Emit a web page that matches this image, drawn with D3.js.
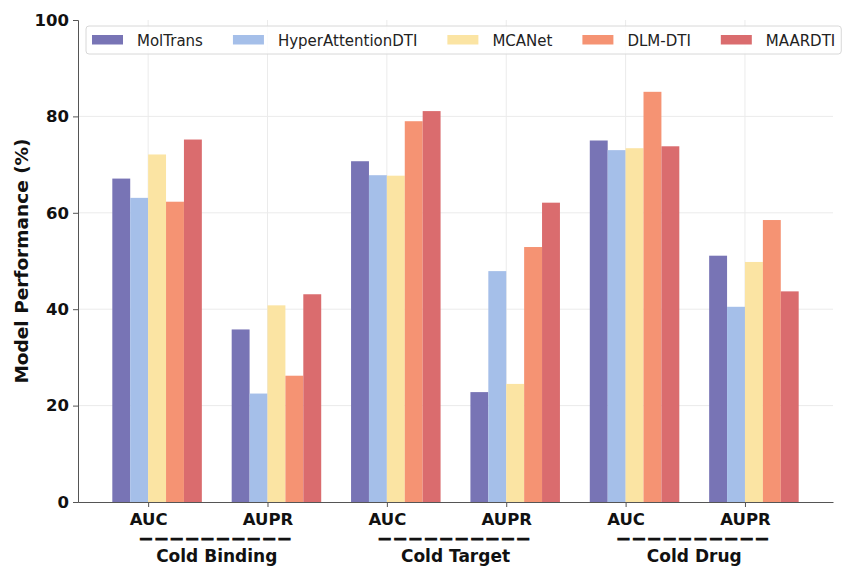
<!DOCTYPE html>
<html>
<head>
<meta charset="utf-8">
<script src="https://cdn.jsdelivr.net/npm/d3@7"></script>
<style>
  body { margin: 0; background: #fff; }
  svg { font-family: "DejaVu Sans", sans-serif; }
</style>
</head>
<body>
<div id="chart"></div>
<script>
// data
const models = ["MolTrans", "HyperAttentionDTI", "MCANet", "DLM-DTI", "MAARDTI"];
const colors = ["#7874b5", "#a5bfe9", "#fbe4a3", "#f59373", "#da6c6e"];
const metrics = ["AUC", "AUPR", "AUC", "AUPR", "AUC", "AUPR"];
const settings = ["Cold Binding", "Cold Target", "Cold Drug"];

const molTrans = [67.1, 35.8, 70.7, 22.8, 75.0, 51.1];
const hyperAttention = [63.1, 22.5, 67.8, 47.9, 73.0, 40.5];
const mcaNet = [72.1, 40.8, 67.7, 24.5, 73.4, 49.8];
const dlmDti = [62.3, 26.2, 79.0, 52.9, 85.1, 58.5];
const maardti = [75.2, 43.1, 81.1, 62.1, 73.8, 43.7];
const series = [molTrans, hyperAttention, mcaNet, dlmDti, maardti];

const yTicks = [0, 20, 40, 60, 80, 100];

const width = 842, height = 566;
const plotLeft = 78, plotRight = 833, plotTop = 20, plotBottom = 502;
const barW = 0.15;

const svg = d3.select("#chart").append("svg")
  .attr("width", width)
  .attr("height", height);

// x: group index, bars at i + j*barW, 5% margins like matplotlib
const dataMin = -barW / 2, dataMax = (metrics.length - 1) + 4 * barW + barW / 2;
const pad = (dataMax - dataMin) * 0.05;
const x = d3.scaleLinear()
  .domain([dataMin - pad, dataMax + pad])
  .range([plotLeft, plotRight]);

const y = d3.scaleLinear()
  .domain([0, 100])
  .range([plotBottom, plotTop]);

const tickPos = metrics.map((m, i) => i + 1.5 * barW);

// grid
const grid = svg.append("g");
grid.selectAll("line.h")
  .data(yTicks.filter(d => d > 0 && d < 100)).enter()
  .append("line")
  .attr("x1", plotLeft).attr("x2", plotRight)
  .attr("y1", d => y(d)).attr("y2", d => y(d))
  .attr("stroke", "#ebebeb");
grid.selectAll("line.v")
  .data(tickPos).enter()
  .append("line")
  .attr("x1", d => x(d)).attr("x2", d => x(d))
  .attr("y1", plotTop).attr("y2", plotBottom)
  .attr("stroke", "#ebebeb");

// bars
series.forEach(function (vals, j) {
  svg.append("g")
    .selectAll("rect")
    .data(vals).enter()
    .append("rect")
    .attr("x", (d, i) => x(i + j * barW - barW / 2))
    .attr("width", x(barW) - x(0))
    .attr("y", d => y(d))
    .attr("height", d => y(0) - y(d))
    .attr("fill", colors[j]);
});

// y axis
const yAxis = svg.append("g")
  .attr("transform", "translate(" + plotLeft + ",0)")
  .call(d3.axisLeft(y).tickValues(yTicks).tickSize(5).tickPadding(4));
yAxis.select(".domain").attr("stroke", "#555");
yAxis.selectAll(".tick line").attr("stroke", "#555");
yAxis.selectAll(".tick text")
  .attr("font-family", "DejaVu Sans")
  .attr("font-weight", "bold")
  .attr("font-size", "16.5px")
  .attr("fill", "#111");

// x axis
const xAxis = svg.append("g")
  .attr("transform", "translate(0," + plotBottom + ")")
  .call(d3.axisBottom(x).tickValues(tickPos).tickFormat((d, i) => metrics[i]).tickSize(5).tickPadding(6).tickSizeOuter(0));
xAxis.select(".domain").attr("stroke", "#555");
xAxis.selectAll(".tick line").attr("stroke", "#555");
xAxis.selectAll(".tick text")
  .attr("font-family", "DejaVu Sans")
  .attr("font-weight", "bold")
  .attr("font-size", "16.5px")
  .attr("fill", "#111");

// group labels under each pair
settings.forEach(function (s, k) {
  const cx = x((2 * k + (2 * k + 1) + 4 * barW) / 2);
  svg.append("text")
    .attr("x", cx).attr("y", 543)
    .attr("text-anchor", "middle")
    .attr("font-size", "12.4px")
    .attr("font-weight", "bold")
    .attr("letter-spacing", "3px")
    .attr("stroke", "#111")
    .attr("stroke-width", 1.2)
    .attr("fill", "#111")
    .text("——————————");
  svg.append("text")
    .attr("x", cx).attr("y", 562)
    .attr("text-anchor", "middle")
    .attr("font-size", "17px")
    .attr("font-weight", "bold")
    .attr("fill", "#111")
    .text(s);
});

// y label
svg.append("text")
  .attr("transform", "translate(28," + ((plotTop + plotBottom) / 2) + ") rotate(-90)")
  .attr("text-anchor", "middle")
  .attr("font-size", "18.5px")
  .attr("font-weight", "bold")
  .attr("fill", "#111")
  .text("Model Performance (%)");

// legend
const legend = svg.append("g");
const box = legend.append("rect")
  .attr("x", 86).attr("y", 26)
  .attr("height", 28).attr("rx", 3)
  .attr("fill", "#fff").attr("fill-opacity", 0.85)
  .attr("stroke", "#d8d8d8");
let lx = 92;
models.forEach(function (m, j) {
  legend.append("rect")
    .attr("x", lx).attr("y", 35)
    .attr("width", 31).attr("height", 9.5)
    .attr("fill", colors[j]);
  const t = legend.append("text")
    .attr("x", lx + 45).attr("y", 45.5)
    .attr("font-size", "15px")
    .attr("fill", "#222")
    .text(m);
  lx = lx + 45 + t.node().getComputedTextLength() + 30;
});
box.attr("width", lx - 30 + 6 - 86);
</script>
</body>
</html>
